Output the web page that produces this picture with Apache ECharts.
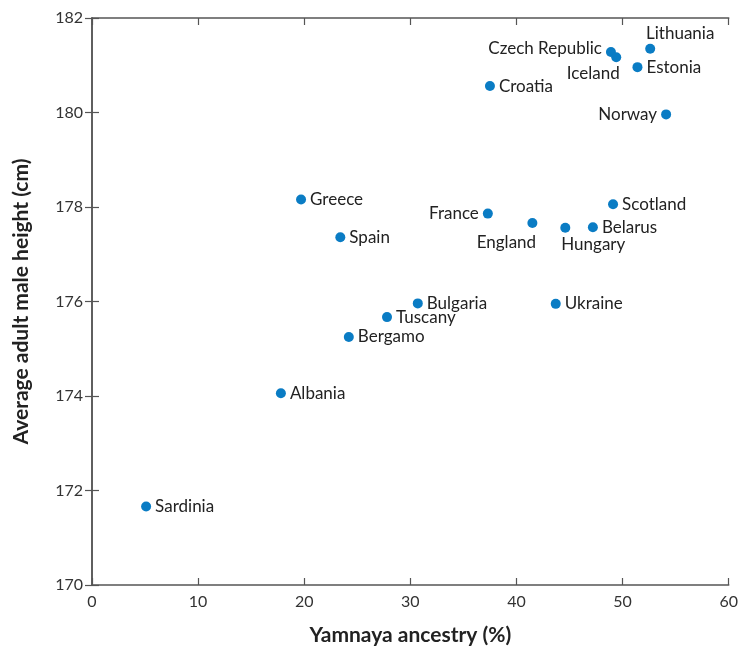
<!DOCTYPE html>
<html>
<head>
<meta charset="utf-8">
<script src="https://cdn.jsdelivr.net/npm/echarts@6/dist/echarts.min.js"></script>
<style>html,body{margin:0;padding:0;background:#fff;}#c{width:741px;height:651px;}</style>
</head>
<body>
<div id="c"></div>
<script>
const countries = ["Sardinia","Albania","Greece","Spain","Bergamo","Tuscany","Bulgaria","Croatia","France","England","Hungary","Belarus","Scotland","Ukraine","Czech Republic","Iceland","Lithuania","Estonia","Norway"];
const ancestry = [5.1, 17.8, 19.7, 23.4, 24.2, 27.8, 30.7, 37.5, 37.3, 41.5, 44.6, 47.2, 49.1, 43.7, 48.9, 49.4, 52.6, 51.4, 54.1];
const height = [171.66, 174.06, 178.16, 177.36, 175.25, 175.67, 175.96, 180.56, 177.86, 177.66, 177.56, 177.57, 178.06, 175.95, 181.28, 181.17, 181.35, 180.96, 179.96];
const xTicks = [0, 10, 20, 30, 40, 50, 60];
const yTicks = [170, 172, 174, 176, 178, 180, 182];

// label placement (style only)
const labelStyle = {
  "France": {position: "left"},
  "Norway": {position: "left"},
  "Czech Republic": {position: "left", offset: [0, -4]},
  "England": {position: "inside", offset: [-26, 19]},
  "Hungary": {position: "inside", offset: [28, 17]},
  "Iceland": {position: "inside", offset: [-23, 16]},
  "Lithuania": {position: "inside", offset: [30, -15]}
};

const FONT = "Lato, 'Open Sans', sans-serif";
const data = countries.map((name, i) => {
  const item = {name: name, value: [ancestry[i], height[i]]};
  if (labelStyle[name]) item.label = Object.assign({}, labelStyle[name]);
  return item;
});

const axisLine = {show: true, lineStyle: {color: '#555', width: 1.5}};
const axisTick = {show: true, inside: true, length: 7, lineStyle: {color: '#555', width: 1.2}};

const chart = echarts.init(document.getElementById('c'), null, {renderer: 'canvas'});
chart.setOption({
  animation: false,
  backgroundColor: '#fff',
  grid: {left: 92, right: 10, top: 18, bottom: 62, containLabel: false},
  xAxis: [{
    type: 'value', min: 0, max: 60, interval: 10, position: 'bottom',
    name: 'Yamnaya ancestry (%)', nameLocation: 'middle', nameGap: 40,
    nameTextStyle: {fontFamily: FONT, fontWeight: 'bold', fontSize: 21, color: '#222'},
    axisLine: axisLine, axisTick: axisTick, splitLine: {show: false},
    axisLabel: {fontFamily: FONT, fontSize: 16, color: '#333', margin: 9,
      formatter: v => xTicks.includes(v) ? String(v) : ''}
  }, {
    type: 'value', min: 0, max: 60, interval: 10, position: 'top',
    axisLine: axisLine, axisTick: axisTick, splitLine: {show: false}, axisLabel: {show: false}
  }],
  yAxis: [{
    type: 'value', min: 170, max: 182, interval: 2, position: 'left',
    name: 'Average adult male height (cm)', nameLocation: 'middle', nameGap: 60, nameRotate: 90,
    nameTextStyle: {fontFamily: FONT, fontWeight: 'bold', fontSize: 21, color: '#222'},
    axisLine: axisLine, axisTick: axisTick, splitLine: {show: false},
    axisLabel: {fontFamily: FONT, fontSize: 16, color: '#333', margin: 9,
      formatter: v => yTicks.includes(v) ? String(v) : ''}
  }, {
    type: 'value', min: 170, max: 182, interval: 2, position: 'right',
    axisLine: axisLine, axisTick: axisTick, splitLine: {show: false}, axisLabel: {show: false}
  }],
  series: [{
    type: 'scatter',
    xAxisIndex: 0, yAxisIndex: 0,
    symbolSize: 10,
    itemStyle: {color: '#0a7cc4', opacity: 1},
    label: {show: true, position: 'right', distance: 4, formatter: '{b}',
      fontFamily: FONT, fontSize: 17, color: '#222'},
    data: data
  }]
});
</script>
</body>
</html>
